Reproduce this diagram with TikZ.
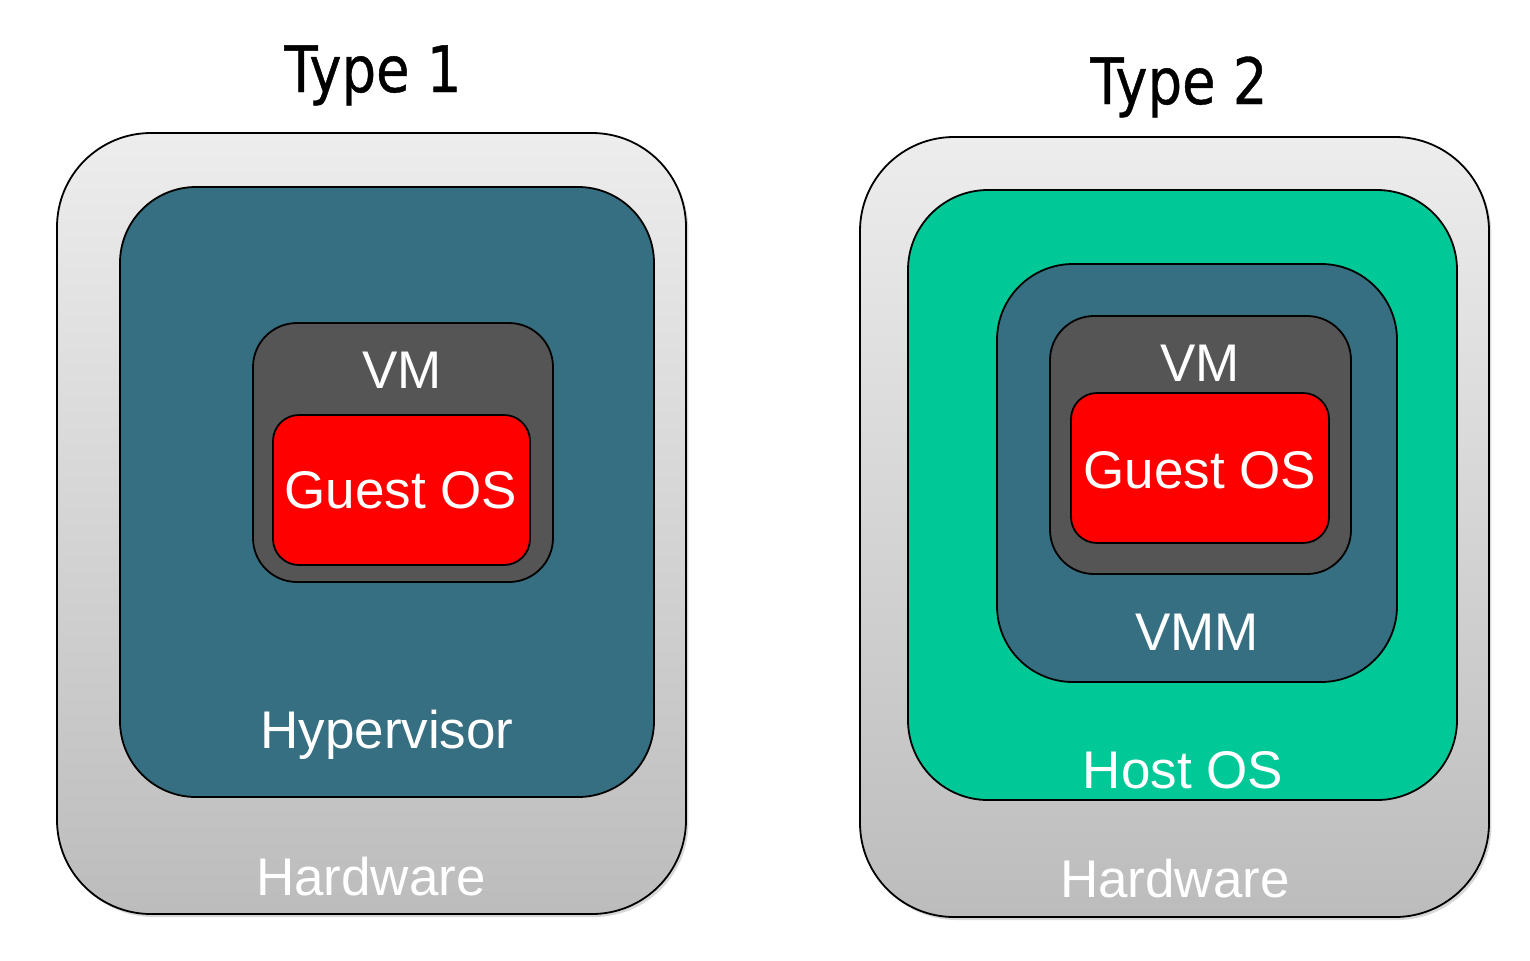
\documentclass[tikz,border=0pt]{standalone}
\usepackage{fontspec}
\setmainfont{Liberation Sans}
\newfontfamily\titlefont[FakeStretch=0.85,FakeBold=0.6]{DejaVu Sans}
\usetikzlibrary{shadows}

\definecolor{hwtop}{HTML}{EDEDED}
\definecolor{hwbot}{HTML}{BCBCBC}
\definecolor{hvblue}{HTML}{366F81}
\definecolor{vmgray}{HTML}{555555}
\definecolor{hostgreen}{HTML}{00C997}

\tikzset{
  layer/.style={draw=black, line width=0.9pt, rectangle, inner sep=0pt},
  hwbox/.style={layer, top color=hwtop, bottom color=hwbot, rounded corners=47pt,
    drop shadow={opacity=0.3, shadow xshift=1.2pt, shadow yshift=-1.5pt}},
  hostbox/.style={layer, fill=hostgreen, rounded corners=40pt},
  hvbox/.style={layer, fill=hvblue, rounded corners=38pt},
  vmbox/.style={layer, fill=vmgray, rounded corners=22pt},
  osbox/.style={layer, fill=red, rounded corners=13pt},
  lbl/.style={text=white, anchor=base, inner sep=0pt,
    font=\fontsize{26.5}{30}\selectfont},
  title/.style={text=black, anchor=base, inner sep=0pt,
    font=\titlefont\fontsize{32}{36}\selectfont}
}

\begin{document}
\begin{tikzpicture}[x=0.5pt, y=-0.5pt]
  \useasboundingbox[fill=white] (0,0) rectangle (1530,960);

  % Type 1
  \node [title] (titleA) at (373,92) {Type 1};
  \node [hwbox, minimum width=314.5pt, minimum height=390.5pt] (hwA) at (371.5,523.5) {};
  \node [hvbox, minimum width=267pt, minimum height=305pt] (hvA) at (387,492) {};
  \node [vmbox, minimum width=150pt, minimum height=129.5pt] (vmA) at (403,452.5) {};
  \node [osbox, minimum width=128.5pt, minimum height=75pt] (osA) at (401.5,490) {};
  \node [lbl] (vmlblA) at (402,388) {VM};
  \node [lbl] (oslblA) at (401,508) {Guest OS};
  \node [lbl] (hvlblA) at (387,748) {Hypervisor};
  \node [lbl] (hwlblA) at (371,895) {Hardware};

  % Type 2
  \node [title] (titleB) at (1179,104) {Type 2};
  \node [hwbox, minimum width=314.5pt, minimum height=390pt] (hwB) at (1174.5,527) {};
  \node [hostbox, minimum width=274.5pt, minimum height=305pt] (hostB) at (1182.5,495) {};
  \node [hvbox, minimum width=200pt, minimum height=209pt] (vmmB) at (1197,473) {};
  \node [vmbox, minimum width=150.5pt, minimum height=129pt] (vmB) at (1200.5,445) {};
  \node [osbox, minimum width=129pt, minimum height=75pt] (osB) at (1200,468) {};
  \node [lbl] (vmlblB) at (1200,381) {VM};
  \node [lbl] (oslblB) at (1200,488) {Guest OS};
  \node [lbl] (vmmlblB) at (1197,650) {VMM};
  \node [lbl] (hostlblB) at (1183,788) {Host OS};
  \node [lbl] (hwlblB) at (1175,897) {Hardware};
\end{tikzpicture}
\end{document}
